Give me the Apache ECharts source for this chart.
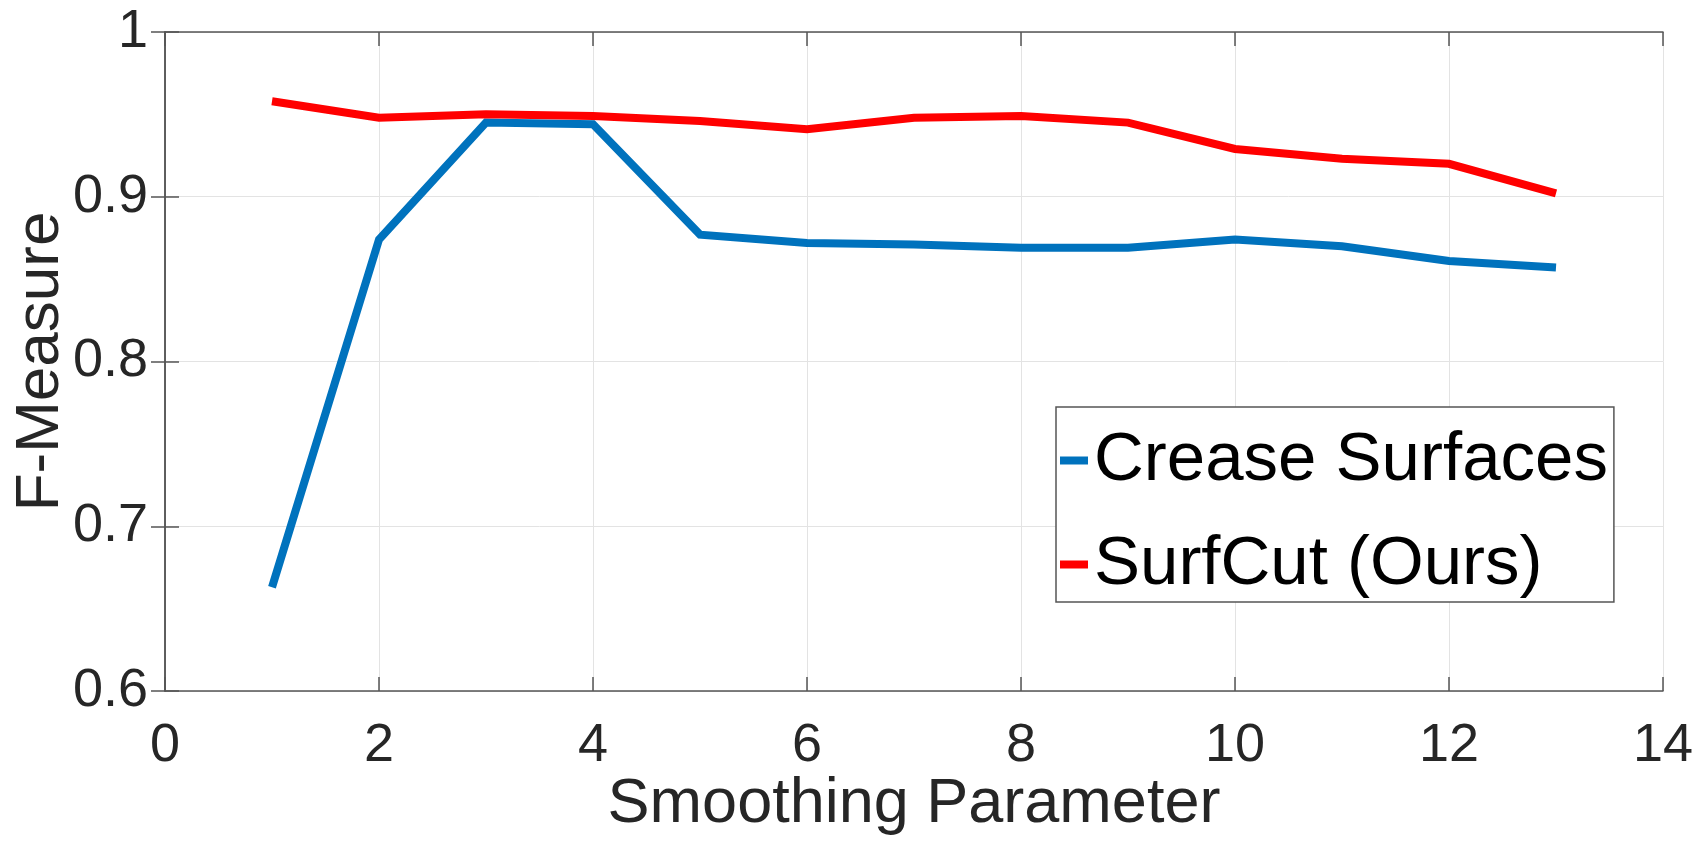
<!DOCTYPE html>
<html>
<head>
<meta charset="utf-8">
<script src="https://cdn.jsdelivr.net/npm/echarts@6/dist/echarts.min.js"></script>
<style>
html, body { margin: 0; padding: 0; background: #fff; }
#chart { width: 1700px; height: 850px; }
</style>
</head>
<body>
<div id="chart"></div>
<script>
// 平滑参数 vs F-Measure
var smoothing = [1, 2, 3, 4, 5, 6, 7, 8, 9, 10, 11, 12, 13];
var creaseSurfaces = [0.663, 0.874, 0.945, 0.944, 0.877, 0.872, 0.871, 0.869, 0.869, 0.874, 0.870, 0.861, 0.857];
var surfCut = [0.958, 0.948, 0.950, 0.949, 0.946, 0.941, 0.948, 0.949, 0.945, 0.929, 0.923, 0.920, 0.902];

var FONT = "'Liberation Sans', Arial, sans-serif";
var TEXT = "#262626";
var AXIS = "#555555";

function pairs(ys) {
    return smoothing.map(function (x, i) { return [x, ys[i]]; });
}

var chart = echarts.init(document.getElementById("chart"));

var boxAxis = {
    lineStyle: { color: AXIS, width: 1.5 }
};

chart.setOption({
    backgroundColor: "#fff",
    animation: false,
    grid: { left: 165, top: 32, right: 37, bottom: 159, containLabel: false, outerBoundsMode: "none" },
    legend: {
        orient: "vertical",
        left: 1056,
        top: 407,
        padding: [19, 6, 3, 4],
        itemGap: 35,
        itemWidth: 28,
        itemHeight: 8,
        icon: "rect",
        borderColor: AXIS,
        borderWidth: 1.5,
        backgroundColor: "#fff",
        textStyle: { fontFamily: FONT, fontSize: 69, color: "#000", padding: [0, 0, 0, 1] },
        data: ["Crease Surfaces", "SurfCut (Ours)"]
    },
    xAxis: [
        {
            type: "value",
            min: 0,
            max: 14,
            interval: 2,
            name: "Smoothing Parameter",
            nameLocation: "middle",
            nameGap: 82,
            nameMoveOverlap: false,
            nameTextStyle: { fontFamily: FONT, fontSize: 63, color: TEXT },
            axisLine: boxAxis,
            axisTick: { inside: true, length: 14, lineStyle: { color: AXIS, width: 1.5 } },
            axisLabel: { fontFamily: FONT, fontSize: 54, color: TEXT, margin: 28 },
            splitLine: { show: true, lineStyle: { color: "#e3e3e3", width: 1 } }
        },
        {
            type: "value",
            position: "top",
            min: 0,
            max: 14,
            interval: 2,
            axisLine: boxAxis,
            axisTick: { inside: true, length: 14, lineStyle: { color: AXIS, width: 1.5 } },
            axisLabel: { show: false },
            splitLine: { show: false }
        }
    ],
    yAxis: [
        {
            type: "value",
            min: 0.6,
            max: 1,
            interval: 0.1,
            name: "F-Measure",
            nameLocation: "middle",
            nameGap: 93,
            nameMoveOverlap: false,
            nameTextStyle: { fontFamily: FONT, fontSize: 62, color: TEXT },
            axisLine: { show: true, lineStyle: { color: AXIS, width: 1.5 } },
            axisTick: { show: true, inside: true, length: 14, lineStyle: { color: AXIS, width: 1.5 } },
            axisLabel: {
                fontFamily: FONT, fontSize: 54, color: TEXT, margin: 17,
                formatter: function (v) { return String(Math.round(v * 10) / 10); }
            },
            splitLine: { show: true, lineStyle: { color: "#e3e3e3", width: 1 } }
        },
        {
            type: "value",
            position: "right",
            min: 0.6,
            max: 1,
            interval: 0.1,
            axisLine: { show: true, lineStyle: { color: AXIS, width: 1.5 } },
            axisTick: { show: true, inside: true, length: 14, lineStyle: { color: AXIS, width: 1.5 } },
            axisLabel: { show: false },
            splitLine: { show: false }
        }
    ],
    series: [
        {
            name: "Crease Surfaces",
            type: "line",
            symbol: "none",
            color: "#0072BD",
            lineStyle: { color: "#0072BD", width: 8, join: "miter" },
            data: pairs(creaseSurfaces)
        },
        {
            name: "SurfCut (Ours)",
            type: "line",
            symbol: "none",
            color: "#FF0000",
            lineStyle: { color: "#FF0000", width: 8, join: "miter" },
            data: pairs(surfCut)
        }
    ]
});
</script>
</body>
</html>
